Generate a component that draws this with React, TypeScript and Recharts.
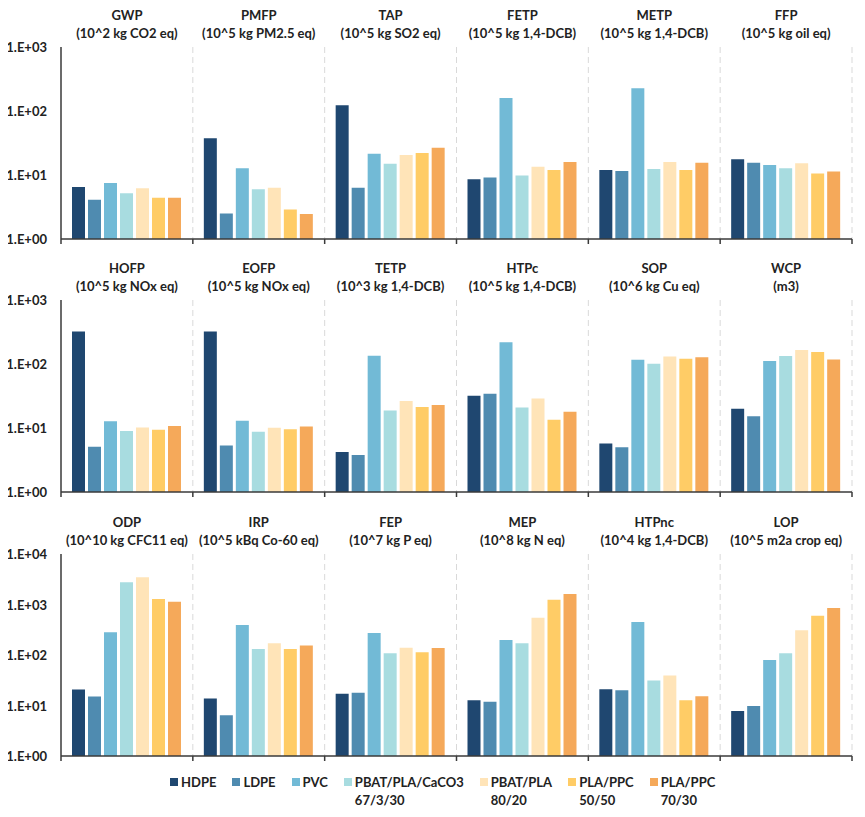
import React from 'react';
import { BarChart, Bar, XAxis, YAxis, CartesianGrid } from 'recharts';

const seriesNames = ['HDPE', 'LDPE', 'PVC', 'PBAT/PLA/CaCO3 67/3/30', 'PBAT/PLA 80/20', 'PLA/PPC 50/50', 'PLA/PPC 70/30'];
const legendLines = [['HDPE'], ['LDPE'], ['PVC'], ['PBAT/PLA/CaCO3', '67/3/30'], ['PBAT/PLA', '80/20'], ['PLA/PPC', '50/50'], ['PLA/PPC', '70/30']];
const colors = ['#1f4770', '#4f8bb0', '#72bad6', '#a8dce0', '#ffe4b8', '#ffcc66', '#f5a95a'];

// values per indicator, in series order
const GWP = [6.5, 4.1, 7.5, 5.2, 6.2, 4.4, 4.4];
const PMFP = [37.4, 2.5, 12.7, 6.0, 6.3, 2.9, 2.46];
const TAP = [123, 6.3, 21.5, 15, 20.5, 22, 26.7];
const FETP = [8.6, 9.1, 160, 9.8, 13.5, 12, 16];
const METP = [12, 11.5, 226, 12.4, 16, 12, 15.6];
const FFP = [17.6, 15.6, 14.3, 12.7, 15.2, 10.6, 11.3];

const HOFP = [323, 5.1, 12.7, 9.0, 10.2, 9.4, 10.7];
const EOFP = [323, 5.35, 13, 8.75, 10.1, 9.6, 10.6];
const TETP = [4.2, 3.8, 135, 18.8, 26.4, 21.3, 22.9];
const HTPc = [32, 34.4, 218, 21, 29, 13.5, 18];
const SOP = [5.7, 5.0, 117, 101, 131, 121, 127];
const WCP = [20, 15.2, 111, 133, 165, 154, 118];

const ODP = [20.8, 15.1, 281, 2760, 3460, 1285, 1137];
const IRP = [13.8, 6.4, 392, 131, 170, 131, 155];
const FEP = [17, 17.8, 272, 108, 139, 114, 137];
const MEP = [12.7, 11.8, 198, 170, 547, 1245, 1616];
const HTPnc = [21, 20, 450, 31.3, 39.4, 12.7, 15.3];
const LOP = [7.8, 9.8, 80, 108, 308, 600, 852];

const row1Names = ['GWP', 'PMFP', 'TAP', 'FETP', 'METP', 'FFP'];
const row1Units = ['(10^2 kg CO2 eq)', '(10^5 kg PM2.5 eq)', '(10^5 kg SO2 eq)', '(10^5 kg 1,4-DCB)', '(10^5 kg 1,4-DCB)', '(10^5 kg oil eq)'];
const row1Values = [GWP, PMFP, TAP, FETP, METP, FFP];

const row2Names = ['HOFP', 'EOFP', 'TETP', 'HTPc', 'SOP', 'WCP'];
const row2Units = ['(10^5 kg NOx eq)', '(10^5 kg NOx eq)', '(10^3 kg 1,4-DCB)', '(10^5 kg 1,4-DCB)', '(10^6 kg Cu eq)', '(m3)'];
const row2Values = [HOFP, EOFP, TETP, HTPc, SOP, WCP];

const row3Names = ['ODP', 'IRP', 'FEP', 'MEP', 'HTPnc', 'LOP'];
const row3Units = ['(10^10 kg CFC11 eq)', '(10^5 kBq Co-60 eq)', '(10^7 kg P eq)', '(10^8 kg N eq)', '(10^4 kg 1,4-DCB)', '(10^5 m2a crop eq)'];
const row3Values = [ODP, IRP, FEP, MEP, HTPnc, LOP];

const ticks3 = [1, 10, 100, 1000];
const ticks4 = [1, 10, 100, 1000, 10000];

const W = 865;
const Y_W = 61;
const RIGHT = 13;
const PANEL_W = (W - Y_W - RIGHT) / 6;
const FONT = 'Lato, "Open Sans", sans-serif';
const AXIS = '#3a3a3a';

function buildRow(names: string[], units: string[], values: number[][]) {
  return names.map((name, i) => {
    const row: any = { name, unit: units[i] };
    values[i].forEach((v, j) => { row['v' + j] = v; });
    return row;
  });
}

const fmtTick = (v: number) => {
  const e = Math.round(Math.log10(v));
  return `1.E+${e < 10 ? '0' + e : e}`;
};

function TitleTick(props: any) {
  const { x, y, payload, units } = props;
  return (
    <g>
      <text x={x} y={y - 32} textAnchor="middle" dominantBaseline="central" fontFamily={FONT} fontWeight={700} fontSize={13} fill="#222">
        {payload.value}
      </text>
      <text x={x} y={y - 14} textAnchor="middle" dominantBaseline="central" fontFamily={FONT} fontWeight={700} fontSize={13} fill="#222">
        {units[payload.index ?? props.index]}
      </text>
    </g>
  );
}

function BoundaryTick(props: any) {
  const { x, y, index } = props;
  const half = PANEL_W / 2;
  return (
    <g>
      <line x1={x - half} x2={x - half} y1={y} y2={y + 5} stroke={AXIS} strokeWidth={1.5} />
      {index === 5 && <line x1={x + half} x2={x + half} y1={y} y2={y + 5} stroke={AXIS} strokeWidth={1.5} />}
    </g>
  );
}

function YTick(props: any) {
  const { x, y, payload } = props;
  return (
    <text x={x} y={y} textAnchor="end" dominantBaseline="central" fontFamily={FONT} fontWeight={700} fontSize={13} fill="#222">
      {fmtTick(payload.value)}
    </text>
  );
}

function RowChart({ data, units, ticks, top, height }: any) {
  const max = ticks[ticks.length - 1];
  return (
    <div style={{ position: 'absolute', left: 0, top }}>
      <BarChart width={W} height={height} data={data} margin={{ top: 7, right: RIGHT, bottom: 0, left: 0 }} barCategoryGap={11} barGap={3}>
        <CartesianGrid
          horizontal={false}
          stroke="#d9d9d9"
          strokeDasharray="6 4"
          verticalCoordinatesGenerator={({ offset }: any) => [1, 2, 3, 4, 5, 6].map((i) => offset.left + (i * offset.width) / 6)}
        />
        <XAxis xAxisId="top" orientation="top" dataKey="name" height={40} axisLine={false} tickLine={false} tickSize={0} tickMargin={0} interval={0} tick={(p: any) => <TitleTick {...p} units={units} />} />
        <XAxis dataKey="name" height={10} axisLine={{ stroke: AXIS, strokeWidth: 1.5 }} tickLine={false} tickSize={0} tickMargin={0} interval={0} tick={(p: any) => <BoundaryTick {...p} />} />
        <YAxis type="number" scale="log" domain={[1, max]} ticks={ticks} allowDataOverflow width={Y_W} axisLine={{ stroke: AXIS, strokeWidth: 1.5 }} tickLine={false} tickSize={0} tickMargin={14} interval={0} tick={(p: any) => <YTick {...p} />} />
        {seriesNames.map((s, j) => (
          <Bar key={s} dataKey={'v' + j} name={s} fill={colors[j]} isAnimationActive={false} />
        ))}
      </BarChart>
    </div>
  );
}

function LegendBox() {
  return (
    <div style={{ position: 'absolute', left: 170, top: 773, display: 'flex', gap: 16, fontFamily: FONT, fontWeight: 700, fontSize: 13, color: '#222', lineHeight: '18px' }}>
      {legendLines.map((lines, j) => (
        <div key={j} style={{ display: 'flex', alignItems: 'flex-start' }}>
          <div style={{ width: 8, height: 8, background: colors[j], marginTop: 5, marginRight: 3 }} />
          <div>
            {lines.map((l) => (
              <div key={l}>{l}</div>
            ))}
          </div>
        </div>
      ))}
    </div>
  );
}

export default function App() {
  const d1 = buildRow(row1Names, row1Units, row1Values);
  const d2 = buildRow(row2Names, row2Units, row2Values);
  const d3 = buildRow(row3Names, row3Units, row3Values);
  return (
    <div style={{ position: 'relative', width: W, height: 817, margin: -8, background: '#fff', overflow: 'hidden' }}>
      <RowChart data={d1} units={row1Units} ticks={ticks3} top={0} height={249} />
      <RowChart data={d2} units={row2Units} ticks={ticks3} top={253} height={249} />
      <RowChart data={d3} units={row3Units} ticks={ticks4} top={507} height={259} />
      <LegendBox />
    </div>
  );
}
